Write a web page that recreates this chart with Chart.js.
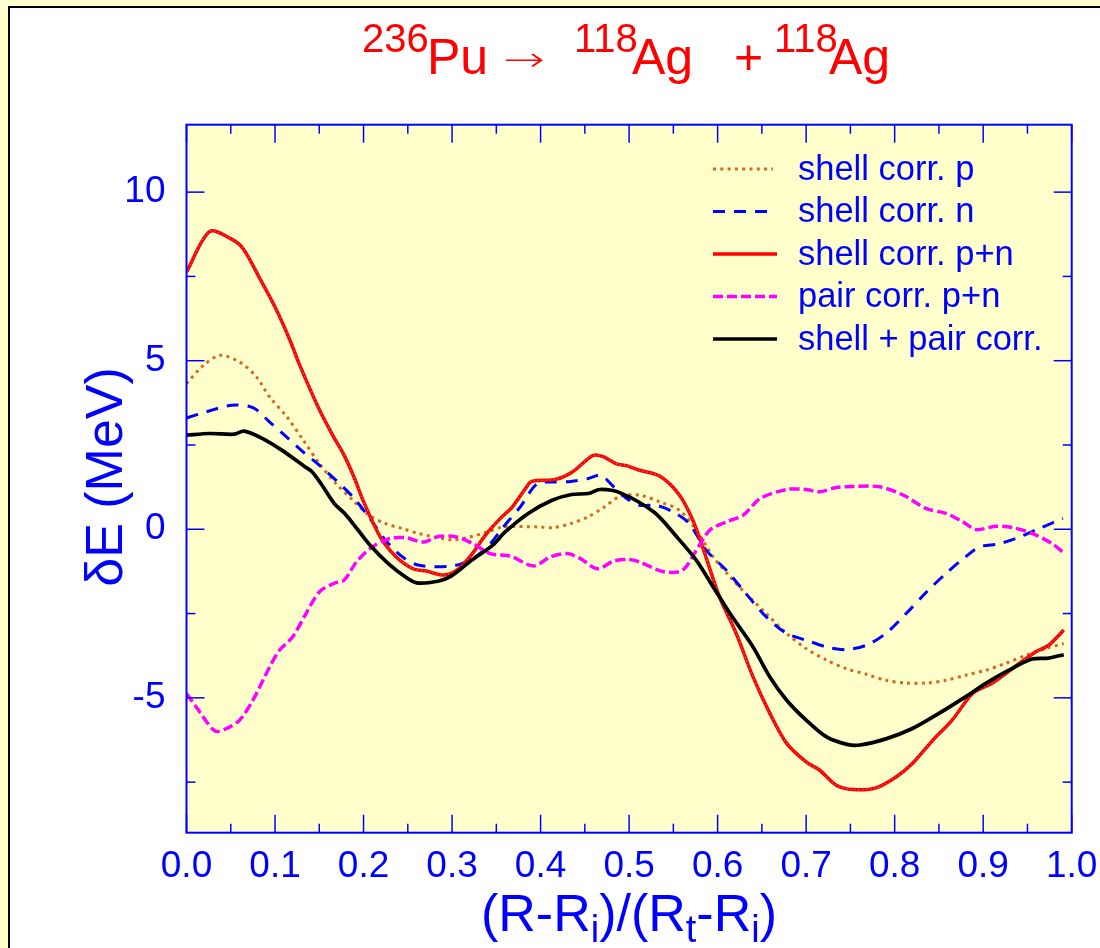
<!DOCTYPE html>
<html>
<head>
<meta charset="utf-8">
<script src="https://cdn.jsdelivr.net/npm/chart.js@4.4.1/dist/chart.umd.min.js"></script>
<style>
  html, body { margin: 0; padding: 0; background: #ffffcc; }
  #wrap { position: relative; width: 1100px; height: 948px; overflow: hidden; background: #ffffcc; }
  #panel { position: absolute; left: 8px; top: 6px; width: 1200px; height: 1100px; background: #ffffff;
           border-left: 2px solid #000; border-top: 2px solid #000; }
  #c { position: absolute; left: 0; top: 0; }
</style>
</head>
<body>
<div id="wrap">
  <div id="panel"></div>
  <canvas id="c" width="1100" height="948"></canvas>
</div>
<script>
// ---------------- data ----------------
const xShellP = [0, 0.019, 0.038, 0.06, 0.079, 0.094, 0.113, 0.132, 0.15, 0.169, 0.188, 0.206, 0.225, 0.244, 0.263, 0.30, 0.32, 0.34, 0.358, 0.396, 0.415, 0.434, 0.453, 0.472, 0.49, 0.512, 0.535, 0.557, 0.576, 0.595, 0.614, 0.632, 0.655, 0.678, 0.70, 0.723, 0.745, 0.768, 0.79, 0.813, 0.836, 0.858, 0.88, 0.903, 0.925, 0.948, 0.97, 0.991];
const yShellP = [4.32, 4.86, 5.16, 4.96, 4.52, 3.92, 3.35, 2.64, 1.95, 1.35, 0.86, 0.42, 0.17, 0.02, -0.13, -0.31, -0.23, -0.08, 0.07, 0.07, 0.05, 0.17, 0.36, 0.66, 0.98, 1.01, 0.81, 0.56, -0.03, -0.82, -1.41, -1.91, -2.50, -3.09, -3.54, -3.88, -4.13, -4.30, -4.48, -4.56, -4.56, -4.48, -4.33, -4.18, -3.98, -3.74, -3.54, -3.39];

const xShellN = [0, 0.022, 0.051, 0.075, 0.094, 0.113, 0.132, 0.15, 0.169, 0.188, 0.206, 0.225, 0.244, 0.263, 0.30, 0.32, 0.34, 0.358, 0.377, 0.396, 0.415, 0.434, 0.453, 0.468, 0.483, 0.498, 0.512, 0.531, 0.55, 0.568, 0.587, 0.61, 0.632, 0.655, 0.678, 0.70, 0.723, 0.745, 0.768, 0.79, 0.813, 0.836, 0.858, 0.88, 0.896, 0.918, 0.941, 0.963, 0.99];
const yShellN = [3.30, 3.48, 3.68, 3.61, 3.18, 2.74, 2.29, 1.90, 1.45, 0.96, 0.36, -0.33, -0.82, -1.07, -1.09, -0.92, -0.52, 0.07, 0.66, 1.35, 1.40, 1.42, 1.50, 1.60, 1.25, 0.90, 0.71, 0.71, 0.51, 0.17, -0.62, -1.22, -1.91, -2.60, -3.09, -3.29, -3.49, -3.57, -3.44, -3.09, -2.50, -1.86, -1.31, -0.82, -0.52, -0.43, -0.23, 0.02, 0.32];

const xShellPN = [0, 0.026, 0.05, 0.064, 0.083, 0.1, 0.117, 0.128, 0.15, 0.166, 0.178, 0.19, 0.2, 0.219, 0.237, 0.256, 0.271, 0.29, 0.305, 0.32, 0.339, 0.356, 0.368, 0.383, 0.39, 0.417, 0.436, 0.459, 0.47, 0.485, 0.498, 0.512, 0.535, 0.557, 0.572, 0.583, 0.602, 0.621, 0.64, 0.659, 0.678, 0.70, 0.715, 0.734, 0.753, 0.779, 0.802, 0.82, 0.843, 0.865, 0.888, 0.91, 0.933, 0.959, 0.974, 0.991];
const yShellPN = [7.63, 8.83, 8.62, 8.32, 7.43, 6.59, 5.60, 4.86, 3.55, 2.75, 2.2, 1.5, 0.82, -0.23, -0.82, -1.17, -1.24, -1.36, -1.22, -0.82, -0.13, 0.36, 0.66, 1.21, 1.42, 1.48, 1.70, 2.19, 2.16, 1.95, 1.88, 1.75, 1.57, 1.01, 0.27, -0.52, -2.0, -3.09, -4.38, -5.46, -6.35, -6.90, -7.14, -7.59, -7.72, -7.67, -7.34, -6.95, -6.26, -5.66, -4.87, -4.57, -4.13, -3.64, -3.44, -2.99];

const xPair = [0, 0.011, 0.032, 0.045, 0.06, 0.075, 0.094, 0.105, 0.12, 0.135, 0.15, 0.166, 0.178, 0.192, 0.21, 0.229, 0.248, 0.267, 0.286, 0.305, 0.324, 0.343, 0.366, 0.392, 0.411, 0.43, 0.445, 0.464, 0.483, 0.5, 0.512, 0.538, 0.56, 0.576, 0.591, 0.61, 0.629, 0.648, 0.678, 0.70, 0.715, 0.734, 0.753, 0.783, 0.81, 0.836, 0.858, 0.877, 0.892, 0.914, 0.933, 0.956, 0.978, 0.991];
const yPair = [-4.87, -5.27, -5.98, -5.91, -5.66, -5.07, -4.08, -3.59, -3.19, -2.50, -1.86, -1.61, -1.51, -0.97, -0.52, -0.28, -0.25, -0.38, -0.21, -0.23, -0.43, -0.72, -0.80, -1.09, -0.82, -0.72, -0.87, -1.17, -0.94, -0.90, -0.97, -1.25, -1.22, -0.62, -0.03, 0.22, 0.42, 0.91, 1.18, 1.18, 1.11, 1.24, 1.27, 1.26, 1.01, 0.61, 0.47, 0.22, -0.01, 0.09, 0.05, -0.13, -0.43, -0.70];

const xTotal = [0, 0.026, 0.054, 0.065, 0.086, 0.108, 0.133, 0.142, 0.152, 0.167, 0.179, 0.194, 0.209, 0.228, 0.247, 0.26, 0.284, 0.299, 0.322, 0.346, 0.36, 0.386, 0.413, 0.435, 0.454, 0.467, 0.49, 0.528, 0.554, 0.576, 0.595, 0.614, 0.64, 0.659, 0.678, 0.70, 0.723, 0.746, 0.761, 0.791, 0.82, 0.85, 0.88, 0.903, 0.929, 0.955, 0.974, 0.991];
const yTotal = [2.79, 2.84, 2.82, 2.91, 2.69, 2.34, 1.87, 1.70, 1.35, 0.76, 0.46, -0.03, -0.52, -1.02, -1.41, -1.59, -1.54, -1.39, -0.92, -0.47, -0.08, 0.47, 0.86, 1.03, 1.06, 1.18, 1.08, 0.51, -0.23, -0.92, -1.71, -2.50, -3.49, -4.38, -5.07, -5.66, -6.16, -6.38, -6.40, -6.21, -5.91, -5.46, -4.97, -4.57, -4.18, -3.85, -3.82, -3.72];

const seriesLabels = ['shell corr. p', 'shell corr. n', 'shell corr. p+n', 'pair corr. p+n', 'shell + pair corr.'];
const xTickValues = [0, 0.1, 0.2, 0.3, 0.4, 0.5, 0.6, 0.7, 0.8, 0.9, 1.0];
const xMinorValues = [0.05, 0.15, 0.25, 0.35, 0.45, 0.55, 0.65, 0.75, 0.85, 0.95];
const yTickValues = [-5, 0, 5, 10];
const yMinorValues = [-7.5, -2.5, 2.5, 7.5];

// ---------------- helpers ----------------
const FONT = "'Liberation Sans', Arial, Helvetica, sans-serif";
const AXIS_BLUE = '#0000ff';
const pts = (xs, ys) => xs.map((x, i) => ({ x: x, y: ys[i] }));

const datasets = [
  { label: seriesLabels[0], data: pts(xShellP, yShellP), borderColor: '#d2691e', borderWidth: 3, borderDash: [3, 4.3], order: 5 },
  { label: seriesLabels[1], data: pts(xShellN, yShellN), borderColor: '#0000ff', borderWidth: 3, borderDash: [12, 9], order: 4 },
  { label: seriesLabels[2], data: pts(xShellPN, yShellPN), borderColor: '#ff0000', borderWidth: 3.5, order: 3 },
  { label: null, data: pts(xShellPN, yShellPN), borderColor: '#5fbfbf', borderWidth: 1, borderDash: [1, 3], order: 2 },
  { label: seriesLabels[3], data: pts(xPair, yPair), borderColor: '#ff00ff', borderWidth: 3.5, borderDash: [10, 4], order: 1 },
  { label: seriesLabels[4], data: pts(xTotal, yTotal), borderColor: '#000000', borderWidth: 3.7, order: 0 }
];
datasets.forEach(d => { d.showLine = true; d.pointRadius = 0; d.tension = 0.3; d.fill = false; d.borderCapStyle = 'butt'; });

const decor = {
  id: 'decor',
  beforeDatasetsDraw(chart) {
    const { ctx, chartArea: a } = chart;
    ctx.save();
    ctx.fillStyle = '#ffffcc';
    ctx.fillRect(a.left, a.top, a.right - a.left, a.bottom - a.top);
    ctx.restore();
  },
  afterDatasetsDraw(chart) {
    const { ctx, chartArea: a, scales } = chart;
    const xs = scales.x, ys = scales.y;
    ctx.save();
    // frame
    ctx.strokeStyle = AXIS_BLUE;
    ctx.lineWidth = 2;
    ctx.strokeRect(a.left, a.top, a.right - a.left, a.bottom - a.top);
    // ticks
    ctx.lineWidth = 1.5;
    const tick = (x1, y1, x2, y2) => { ctx.beginPath(); ctx.moveTo(x1, y1); ctx.lineTo(x2, y2); ctx.stroke(); };
    xTickValues.forEach(v => { const p = xs.getPixelForValue(v); tick(p, a.bottom, p, a.bottom - 18); tick(p, a.top, p, a.top + 18); });
    xMinorValues.forEach(v => { const p = xs.getPixelForValue(v); tick(p, a.bottom, p, a.bottom - 9); tick(p, a.top, p, a.top + 9); });
    yTickValues.forEach(v => { const p = ys.getPixelForValue(v); tick(a.left, p, a.left + 18, p); tick(a.right, p, a.right - 18, p); });
    yMinorValues.forEach(v => { const p = ys.getPixelForValue(v); tick(a.left, p, a.left + 9, p); tick(a.right, p, a.right - 9, p); });

    // legend
    const rows = chart.data.datasets.filter(d => d.label);
    const lens = [60, 55, 64, 64, 64];
    rows.forEach((d, i) => {
      const y = 169 + i * 42.5;
      ctx.strokeStyle = d.borderColor;
      ctx.lineWidth = d.borderWidth;
      ctx.setLineDash(d.borderDash || []);
      ctx.beginPath(); ctx.moveTo(713, y); ctx.lineTo(713 + lens[i], y); ctx.stroke();
      ctx.setLineDash([]);
      ctx.fillStyle = AXIS_BLUE;
      ctx.font = '34.5px ' + FONT;
      ctx.textAlign = 'left';
      ctx.textBaseline = 'middle';
      ctx.fillText(d.label, 798, y + 1);
    });

    // title
    ctx.fillStyle = '#ff0000';
    ctx.textAlign = 'left';
    ctx.textBaseline = 'alphabetic';
    const big = '50px ' + FONT, sup = '40px ' + FONT;
    const title = [
      { t: '236', f: sup, x: 362, y: 52 },
      { t: 'Pu', f: big, x: 427, y: 74 },
      { t: '118', f: sup, x: 574, y: 52 },
      { t: 'Ag', f: big, x: 632, y: 74 },
      { t: '+', f: big, x: 734, y: 74 },
      { t: '118', f: sup, x: 774, y: 52 },
      { t: 'Ag', f: big, x: 829, y: 74 }
    ];
    title.forEach(s => { ctx.font = s.f; ctx.fillText(s.t, s.x, s.y); });
    // arrow glyph, stretched to the long thin arrow of the original
    ctx.save();
    ctx.font = '200 40px "DejaVu Sans", ' + FONT;
    const aw = ctx.measureText('\u2192').width;
    ctx.translate(503, 71);
    ctx.scale(42 / aw, 0.85);
    ctx.fillText('\u2192', 0, 0);
    ctx.restore();

    // x axis title
    ctx.fillStyle = AXIS_BLUE;
    const main = '52px ' + FONT, sub = '38px ' + FONT;
    const xt = [['(R-R', main, 0], ['i', sub, 11], [')/(R', main, 0], ['t', sub, 11], ['-R', main, 0], ['i', sub, 11], [')', main, 0]];
    let cx = 0;
    xt.forEach(s => { ctx.font = s[1]; cx += ctx.measureText(s[0]).width; });
    let x0 = 629 - cx / 2;
    xt.forEach(s => { ctx.font = s[1]; ctx.fillText(s[0], x0, 931 + s[2]); x0 += ctx.measureText(s[0]).width; });

    // y axis title
    ctx.save();
    ctx.translate(122, 477);
    ctx.rotate(-Math.PI / 2);
    ctx.font = '52px ' + FONT;
    ctx.textAlign = 'center';
    ctx.textBaseline = 'alphabetic';
    ctx.fillText('\u03b4E (MeV)', 0, 0);
    ctx.restore();

    ctx.restore();
  }
};

new Chart(document.getElementById('c'), {
  type: 'scatter',
  data: { datasets: datasets },
  options: {
    responsive: false,
    animation: false,
    devicePixelRatio: 1,
    layout: { padding: { top: 124.7, right: 28.3, bottom: 0, left: 0 } },
    plugins: { legend: { display: false }, tooltip: { enabled: false }, title: { display: false } },
    scales: {
      x: {
        type: 'linear', min: 0, max: 1,
        afterBuildTicks: s => { s.ticks = xTickValues.map(v => ({ value: v })); },
        afterFit: s => { s.height = 115.3; s.paddingLeft = 0; s.paddingRight = 0; },
        grid: { display: false, drawTicks: false },
        border: { display: false },
        ticks: { autoSkip: false, maxRotation: 0, padding: 12, color: AXIS_BLUE, font: { family: FONT, size: 37 },
                 callback: v => Number(v).toFixed(1) }
      },
      y: {
        type: 'linear', min: -9, max: 12,
        afterBuildTicks: s => { s.ticks = yTickValues.map(v => ({ value: v })); },
        afterFit: s => { s.width = 186.5; s.paddingTop = 0; s.paddingBottom = 0; },
        grid: { display: false, drawTicks: false },
        border: { display: false },
        ticks: { autoSkip: false, padding: 21, color: AXIS_BLUE, font: { family: FONT, size: 37 },
                 callback: v => String(v) }
      }
    }
  },
  plugins: [decor]
});
</script>
</body>
</html>
